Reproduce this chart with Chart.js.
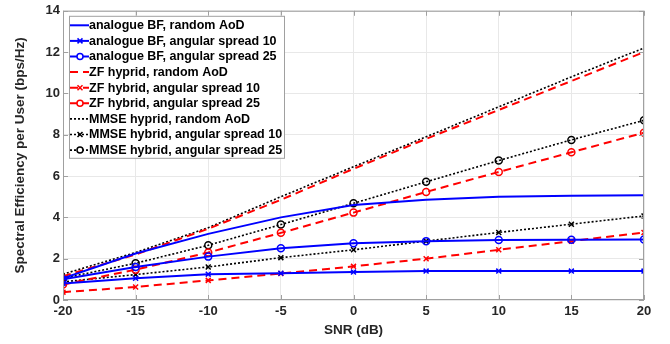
<!DOCTYPE html>
<html>
<head>
<meta charset="utf-8">
<script src="https://cdn.jsdelivr.net/npm/chart.js@4"></script>
<style>
  html, body { margin: 0; padding: 0; background: #fff; }
  #wrap { width: 670px; height: 344px; }
</style>
</head>
<body>
<div id="wrap"><canvas id="c"></canvas></div>
<script>
(function () {
  // SNR points (dB)
  const snr = [-20, -15, -10, -5, 0, 5, 10, 15, 20];

  // analogue beamforming
  const bfRandom = [1.05, 2.25, 3.2, 4.0, 4.6, 4.85, 5.0, 5.05, 5.07];
  const bfAs10   = [0.8, 1.05, 1.25, 1.3, 1.35, 1.4, 1.4, 1.4, 1.4];
  const bfAs25   = [1.0, 1.6, 2.1, 2.5, 2.75, 2.85, 2.9, 2.92, 2.93];

  // ZF hybrid
  const zfRandom = [1.15, 2.2, 3.45, 4.85, 6.35, 7.8, 9.2, 10.6, 12.0];
  const zfAs10   = [0.38, 0.63, 0.95, 1.28, 1.63, 2.0, 2.43, 2.85, 3.27];
  const zfAs25   = [0.75, 1.47, 2.3, 3.25, 4.23, 5.23, 6.2, 7.15, 8.1];

  // MMSE hybrid
  const mmRandom = [1.25, 2.3, 3.5, 5.0, 6.45, 7.9, 9.35, 10.8, 12.2];
  const mmAs10   = [0.88, 1.23, 1.6, 2.05, 2.43, 2.85, 3.27, 3.67, 4.07];
  const mmAs25   = [1.05, 1.78, 2.65, 3.65, 4.68, 5.72, 6.75, 7.75, 8.7];

  const labels = [
    'analogue BF, random AoD',
    'analogue BF, angular spread 10',
    'analogue BF, angular spread 25',
    'ZF hyprid, random AoD',
    'ZF hybrid, angular spread 10',
    'ZF hybrid, angular spread 25',
    'MMSE hyprid, random AoD',
    'MMSE hybrid, angular spread 10',
    'MMSE hybrid, angular spread 25'
  ];

  const FONT = '"Liberation Sans", Arial, sans-serif';
  const BLUE = '#0000ff', RED = '#ff0000', BLACK = '#000000';

  const styles = [
    { c: BLUE,  dash: [],     w: 2,   m: null },
    { c: BLUE,  dash: [],     w: 2,   m: 'crossRot' },
    { c: BLUE,  dash: [],     w: 2,   m: 'circle' },
    { c: RED,   dash: [8, 5], w: 2,   m: null },
    { c: RED,   dash: [8, 5], w: 2,   m: 'crossRot' },
    { c: RED,   dash: [8, 5], w: 2,   m: 'circle' },
    { c: BLACK, dash: [2, 2], w: 1.6, m: null },
    { c: BLACK, dash: [2, 2], w: 1.6, m: 'crossRot' },
    { c: BLACK, dash: [2, 2], w: 1.6, m: 'circle' }
  ];
  const series = [bfRandom, bfAs10, bfAs25, zfRandom, zfAs10, zfAs25, mmRandom, mmAs10, mmAs25];

  const datasets = series.map((vals, i) => {
    const s = styles[i];
    return {
      label: labels[i],
      data: snr.map((x, j) => ({ x: x, y: vals[j] })),
      borderColor: s.c,
      backgroundColor: 'rgba(0,0,0,0)',
      borderWidth: s.w,
      borderDash: s.dash,
      pointStyle: s.m || 'circle',
      pointRadius: s.m ? (s.m === 'circle' ? 3.5 : 3.5) : 0,
      pointBorderWidth: 1.5,
      pointBorderColor: s.c,
      pointBackgroundColor: 'rgba(0,0,0,0)',
      tension: 0
    };
  });

  // box, inward ticks and the legend in the upper-left corner
  const frame = {
    id: 'frame',
    afterDatasetsDraw(chart) {
      const { ctx, chartArea: a, scales } = chart;
      ctx.save();
      ctx.strokeStyle = '#a0a0a0';
      ctx.lineWidth = 1;
      ctx.setLineDash([]);
      ctx.strokeRect(a.left + 0.5, a.top + 0.5, a.right - a.left - 1, a.bottom - a.top - 1);
      const tl = 5;
      ctx.beginPath();
      scales.x.ticks.forEach(t => {
        const px = Math.round(scales.x.getPixelForValue(t.value)) + 0.5;
        ctx.moveTo(px, a.bottom); ctx.lineTo(px, a.bottom - tl);
        ctx.moveTo(px, a.top); ctx.lineTo(px, a.top + tl);
      });
      scales.y.ticks.forEach(t => {
        const py = Math.round(scales.y.getPixelForValue(t.value)) + 0.5;
        ctx.moveTo(a.left, py); ctx.lineTo(a.left + tl, py);
        ctx.moveTo(a.right, py); ctx.lineTo(a.right - tl, py);
      });
      ctx.stroke();

      // legend
      const lx = a.left + 6, ly = a.top + 5, lw = 215, lh = 142, row = 15.6;
      ctx.fillStyle = '#ffffff';
      ctx.fillRect(lx, ly, lw, lh);
      ctx.strokeStyle = '#a0a0a0';
      ctx.strokeRect(lx + 0.5, ly + 0.5, lw, lh);
      ctx.font = 'bold 12.5px ' + FONT;
      ctx.textBaseline = 'middle';
      chart.data.datasets.forEach((d, i) => {
        const s = styles[i];
        const y = ly + 9.5 + i * row;
        ctx.strokeStyle = s.c;
        ctx.lineWidth = s.w;
        ctx.setLineDash(s.dash);
        ctx.beginPath();
        ctx.moveTo(lx + 1, y);
        ctx.lineTo(lx + 20, y);
        ctx.stroke();
        ctx.setLineDash([]);
        if (s.m) {
          const cx = lx + 11;
          ctx.lineWidth = 1.5;
          ctx.beginPath();
          if (s.m === 'circle') {
            ctx.fillStyle = '#fff';
            ctx.arc(cx, y, 3, 0, Math.PI * 2);
            ctx.fill();
          } else {
            ctx.moveTo(cx - 2.5, y - 2.5); ctx.lineTo(cx + 2.5, y + 2.5);
            ctx.moveTo(cx - 2.5, y + 2.5); ctx.lineTo(cx + 2.5, y - 2.5);
          }
          ctx.stroke();
        }
        ctx.fillStyle = '#000';
        ctx.fillText(d.label, lx + 20, y + 0.5);
      });
      ctx.restore();
    }
  };

  const tickFont = { family: FONT, size: 13, weight: 'bold' };
  const titleFont = { family: FONT, size: 13.5, weight: 'bold' };

  new Chart(document.getElementById('c').getContext('2d'), {
    type: 'line',
    data: { datasets: datasets },
    options: {
      responsive: true,
      maintainAspectRatio: false,
      animation: false,
      layout: { padding: { top: 8, right: 26, left: 0, bottom: 0 } },
      plugins: { legend: { display: false }, tooltip: { enabled: false } },
      scales: {
        x: {
          type: 'linear', min: -20, max: 20,
          afterFit: s => { s.height = 44; },
          grid: { color: '#e8e8e8', drawTicks: false },
          border: { display: false },
          ticks: { stepSize: 5, color: '#262626', font: tickFont, padding: 4 },
          title: { display: true, text: 'SNR (dB)', color: '#262626', font: titleFont, padding: { top: 0, bottom: 6 } }
        },
        y: {
          min: 0, max: 14,
          afterFit: s => { s.width = 63; },
          grid: { color: '#e8e8e8', drawTicks: false },
          border: { display: false },
          ticks: { stepSize: 2, color: '#262626', font: tickFont, padding: 3 },
          title: { display: true, text: 'Spectral Efficiency per User (bps/Hz)', color: '#262626', font: titleFont, padding: { top: 12, bottom: 0 } }
        }
      }
    },
    plugins: [frame]
  });
})();
</script>
</body>
</html>
